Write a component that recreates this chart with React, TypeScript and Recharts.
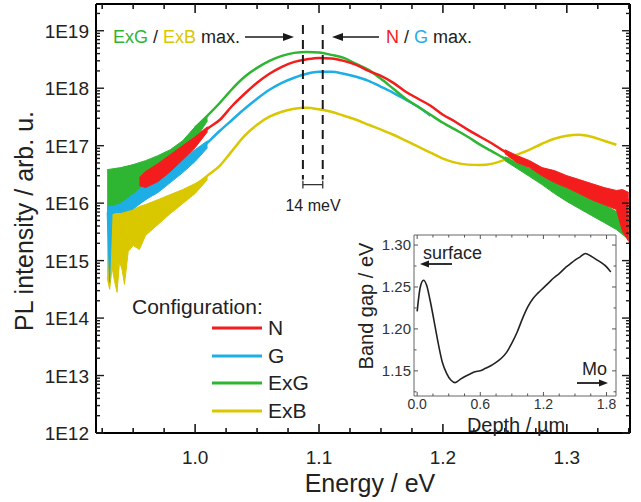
import React from 'react';
import { ComposedChart, LineChart, Line, Area, XAxis, YAxis, ReferenceLine } from 'recharts';

const FONT = '"Liberation Sans", Arial, Helvetica, sans-serif';

// ---------- main chart: PL spectra ----------
const energyGrid = [1.0, 1.01, 1.02, 1.03, 1.04, 1.05, 1.06, 1.07, 1.08, 1.09, 1.1, 1.11, 1.12, 1.13, 1.14, 1.15, 1.16, 1.17, 1.18, 1.19, 1.2, 1.21, 1.22, 1.23, 1.24, 1.25, 1.26, 1.27, 1.28, 1.29, 1.3, 1.31, 1.32, 1.33, 1.34, 1.35];
const nValues = [1.17e17, 1.97e17, 2.83e17, 4.95e17, 8.0e17, 1.24e18, 1.78e18, 2.35e18, 2.87e18, 3.18e18, 3.37e18, 3.3e18, 2.99e18, 2.55e18, 2.0e18, 1.64e18, 1.24e18, 8.66e17, 6.55e17, 4.95e17, 3.45e17, 2.61e17, 1.9e17, 1.43e17, 1.08e17, 7.87e16, 6.19e16, 5.07e16, 3.68e16, 2.9e16, 2.28e16, 1.94e16, 1.72e16, 1.47e16, 1.3e16, 1.11e16];
const gValues = [6.98e16, 1.13e17, 1.82e17, 2.83e17, 4.39e17, 6.55e17, 9.38e17, 1.24e18, 1.52e18, 1.78e18, 1.93e18, 1.93e18, 1.78e18, 1.58e18, 1.34e18, 1.06e18, 8.32e17, 6.29e17, 4.75e17, 3.32e17, null, null, null, null, null, null, null, null, null, null, null, null, null, null, null, null];
const exgValues = [2.05e17, 3.32e17, 5.58e17, 9.76e17, 1.58e18, 2.26e18, 2.99e18, 3.65e18, 4.12e18, 4.28e18, 4.2e18, 3.8e18, 3.37e18, 2.65e18, 2.09e18, 1.46e18, 9.76e17, 6.55e17, 4.75e17, 3.45e17, 2.51e17, 1.9e17, 1.43e17, 1.04e17, 7.87e16, 5.95e16, 4.5e16, 3.4e16, 2.67e16, 1.87e16, 1.41e16, 1.11e16, 8.73e15, 6.87e15, 5.19e15, 4.08e15];
const exbValues = [2.02e16, 3.01e16, 4.5e16, 8.19e16, 1.49e17, 2.31e17, 3.19e17, 3.89e17, 4.39e17, 4.57e17, 4.3e17, 3.89e17, 3.32e17, 2.83e17, 2.31e17, 1.9e17, 1.55e17, 1.22e17, 9.61e16, 7.56e16, 5.95e16, 5.07e16, 4.68e16, 4.59e16, 4.87e16, 5.71e16, 6.98e16, 8.52e16, 1.08e17, 1.32e17, 1.49e17, 1.55e17, 1.43e17, 1.22e17, 1.04e17, null];

// noise envelopes (low / high) of the measured spectra
const exgNoiseLeftE = [0.929, 0.94, 0.95, 0.96, 0.97, 0.98, 0.99, 1.0, 1.01];
const exgNoiseLeftHi = [3.83e16, 4.15e16, 4.68e16, 5.49e16, 6.71e16, 8.52e16, 1.22e17, 2.14e17, 3.32e17];
const exgNoiseLeftLo = [6.34e15, 7.15e15, 8.39e15, 1.15e16, 1.72e16, 2.78e16, 5.71e16, 1.27e17, 2.72e17];
const exgNoiseRightE = [1.25, 1.26, 1.27, 1.28, 1.29, 1.3, 1.31, 1.32, 1.33, 1.34, 1.35];
const exgNoiseRightHi = [6.44e16, 5.07e16, 3.99e16, 3.27e16, 2.28e16, 1.87e16, 1.47e16, 1.15e16, 9.46e15, 7.15e15, 6.09e15];
const exgNoiseRightLo = [5.49e16, 3.99e16, 2.9e16, 2.1e16, 1.47e16, 1.07e16, 8.06e15, 6.09e15, 4.61e15, 3.48e15, 2.33e15];

const nNoiseLeftE = [0.955, 0.96, 0.97, 0.98, 0.99, 1.0, 1.01];
const nNoiseLeftHi = [2.78e16, 3.54e16, 4.87e16, 6.98e16, 1.0e17, 1.43e17, 2.14e17];
const nNoiseLeftLo = [2.02e16, 1.87e16, 2.37e16, 3.54e16, 5.71e16, 9.23e16, 1.75e17];
const nNoiseRightE = [1.25, 1.26, 1.27, 1.28, 1.29, 1.3, 1.31, 1.32, 1.33, 1.34, 1.345, 1.35];
const nNoiseRightHi = [8.52e16, 6.71e16, 5.49e16, 4.15e16, 3.68e16, 3.01e16, 2.57e16, 2.19e16, 1.87e16, 1.66e16, 1.72e16, 1.53e16];
const nNoiseRightLo = [7.26e16, 5.07e16, 4.15e16, 3.01e16, 2.28e16, 1.87e16, 1.47e16, 1.15e16, 9.46e15, 7.74e15, 3.21e15, 2.15e15];

const gNoiseLeftE = [0.929, 0.931, 0.933, 0.94, 0.95, 0.96, 0.97, 0.98, 0.99, 1.0, 1.01];
const gNoiseLeftHi = [8.73e15, 8.73e15, 8.73e15, 9.84e15, 1.41e16, 2.19e16, 3.14e16, 4.5e16, 6.19e16, 8.52e16, 1.22e17];
const gNoiseLeftLo = [6.87e15, 4.18e14, 6.87e15, 6.87e15, 7.9e15, 1.15e16, 1.53e16, 2.28e16, 3.4e16, 5.3e16, 9.23e16];

const exbNoiseLeftE = [0.929, 0.931, 0.933, 0.935, 0.937, 0.939, 0.941, 0.943, 0.946, 0.95, 0.955, 0.96, 0.97, 0.98, 0.99, 1.0, 1.01];
const exbNoiseLeftHi = [6.87e15, 6.87e15, 6.87e15, 7.15e15, 7.15e15, 7.15e15, 7.44e15, 7.44e15, 7.74e15, 7.74e15, 8.73e15, 9.46e15, 1.15e16, 1.41e16, 1.72e16, 2.19e16, 2.9e16];
const exbNoiseLeftLo = [5.11e14, 3.16e14, 7.62e14, 4.35e14, 2.81e14, 9.68e14, 7.03e14, 3.86e14, 1.44e15, 1.84e15, 1.56e15, 2.74e15, 4.25e15, 6.6e15, 9.84e15, 1.47e16, 2.57e16];

const seriesNames = ['N', 'G', 'ExG', 'ExB'];
const seriesColors = ['#f41d1d', '#1eaee6', '#2eb531', '#d9c700'];

const xMajorTicks = [1.0, 1.1, 1.2, 1.3];
const yDecades = [12, 13, 14, 15, 16, 17, 18, 19];
const X_DOMAIN = [0.92, 1.351];
const Y_DOMAIN = [1e12, 2.92e19];

// ---------- inset: band gap depth profile ----------
const depthUm = [0.0, 0.03, 0.06, 0.09, 0.12, 0.16, 0.2, 0.24, 0.28, 0.32, 0.36, 0.4, 0.45, 0.5, 0.55, 0.6, 0.65, 0.7, 0.75, 0.8, 0.85, 0.9, 0.95, 1.0, 1.05, 1.1, 1.15, 1.2, 1.25, 1.3, 1.35, 1.4, 1.45, 1.5, 1.55, 1.6, 1.65, 1.7, 1.75, 1.8, 1.84];
const bandGapEv = [1.221, 1.25, 1.258, 1.252, 1.236, 1.21, 1.183, 1.16, 1.147, 1.139, 1.136, 1.139, 1.143, 1.146, 1.149, 1.15, 1.153, 1.156, 1.16, 1.165, 1.172, 1.183, 1.196, 1.212, 1.226, 1.236, 1.243, 1.249, 1.255, 1.261, 1.266, 1.272, 1.277, 1.282, 1.286, 1.29, 1.287, 1.283, 1.279, 1.274, 1.268];
const insetXMajor = [0, 0.6, 1.2, 1.8];
const insetYMajor = [1.15, 1.2, 1.25, 1.3];

// ---------- derived tables ----------
const lineRows = energyGrid.map((e, i) => ({ e, n: nValues[i], g: gValues[i], exg: exgValues[i], exb: exbValues[i] }));
const band = (es: number[], lo: number[], hi: number[]) => es.map((e, i) => ({ e, r: [lo[i], hi[i]] }));
const exgLeft = band(exgNoiseLeftE, exgNoiseLeftLo, exgNoiseLeftHi);
const exgRight = band(exgNoiseRightE, exgNoiseRightLo, exgNoiseRightHi);
const nLeft = band(nNoiseLeftE, nNoiseLeftLo, nNoiseLeftHi);
const nRight = band(nNoiseRightE, nNoiseRightLo, nNoiseRightHi);
const gLeft = band(gNoiseLeftE, gNoiseLeftLo, gNoiseLeftHi);
const exbLeft = band(exbNoiseLeftE, exbNoiseLeftLo, exbNoiseLeftHi);
const insetRows = depthUm.map((d, i) => ({ d, eg: bandGapEv[i] }));

const xTicks: number[] = [];
for (let k = 37; k <= 54; k++) xTicks.push(+(k * 0.025).toFixed(3));
const yTicks: number[] = [];
yDecades.forEach((n) => {
  for (let m = 1; m <= 9; m++) {
    const v = m * Math.pow(10, n);
    if (v <= Y_DOMAIN[1]) yTicks.push(v);
  }
});
const insetXTicks: number[] = [];
for (let k = 0; k <= 12; k++) insetXTicks.push(+(k * 0.15).toFixed(2));
const insetYTicks: number[] = [];
for (let k = 0; k <= 7; k++) insetYTicks.push(+(1.125 + k * 0.025).toFixed(3));

const isXMajor = (v: number) => xMajorTicks.some((t) => Math.abs(t - v) < 1e-6);
const isYMajor = (v: number) => Math.abs(Math.log10(v) - Math.round(Math.log10(v))) < 1e-6;
const isIXMajor = (v: number) => insetXMajor.some((t) => Math.abs(t - v) < 1e-6);
const isIYMajor = (v: number) => insetYMajor.some((t) => Math.abs(t - v) < 1e-6);

const INK = '#1a1a1a';

const XTickBottom = (p: any) => {
  const v = p.payload.value;
  const major = isXMajor(v);
  return (
    <g>
      <line x1={p.x} x2={p.x} y1={p.y} y2={p.y - (major ? 9 : 5)} stroke={INK} strokeWidth={1.6} />
      {major && (
        <text x={p.x} y={p.y + 31} textAnchor="middle" fontSize={19} fontFamily={FONT} fill="#222">
          {v.toFixed(1)}
        </text>
      )}
    </g>
  );
};
const XTickTop = (p: any) => {
  const major = isXMajor(p.payload.value);
  return <line x1={p.x} x2={p.x} y1={p.y} y2={p.y + (major ? 9 : 5)} stroke={INK} strokeWidth={1.6} />;
};
const YTickLeft = (p: any) => {
  const v = p.payload.value;
  const major = isYMajor(v);
  return (
    <g>
      <line x1={p.x} x2={p.x + (major ? 8 : 4)} y1={p.y} y2={p.y} stroke={INK} strokeWidth={1.4} />
      {major && (
        <text x={p.x - 7} y={p.y + 7} textAnchor="end" fontSize={19} fontFamily={FONT} fill="#222">
          {'1E' + Math.round(Math.log10(v))}
        </text>
      )}
    </g>
  );
};
const YTickRight = (p: any) => {
  const major = isYMajor(p.payload.value);
  return <line x1={p.x} x2={p.x - (major ? 8 : 4)} y1={p.y} y2={p.y} stroke={INK} strokeWidth={1.4} />;
};

const IXTickBottom = (p: any) => {
  const v = p.payload.value;
  const major = isIXMajor(v);
  return (
    <g>
      <line x1={p.x} x2={p.x} y1={p.y} y2={p.y - (major ? 4 : 2.5)} stroke="#555" strokeWidth={1} />
      {major && (
        <text x={p.x} y={p.y + 13} textAnchor="middle" fontSize={14} fontFamily={FONT} fill="#333">
          {v.toFixed(1)}
        </text>
      )}
    </g>
  );
};
const IXTickTop = (p: any) => {
  const major = isIXMajor(p.payload.value);
  return <line x1={p.x} x2={p.x} y1={p.y} y2={p.y + (major ? 4 : 2.5)} stroke="#555" strokeWidth={1} />;
};
const IYTickLeft = (p: any) => {
  const v = p.payload.value;
  const major = isIYMajor(v);
  return (
    <g>
      <line x1={p.x} x2={p.x + (major ? 4 : 2.5)} y1={p.y} y2={p.y} stroke="#555" strokeWidth={1} />
      {major && (
        <text x={p.x - 3} y={p.y + 5} textAnchor="end" fontSize={15} fontFamily={FONT} fill="#333">
          {v.toFixed(2)}
        </text>
      )}
    </g>
  );
};
const IYTickRight = (p: any) => {
  const major = isIYMajor(p.payload.value);
  return <line x1={p.x} x2={p.x - (major ? 4 : 2.5)} y1={p.y} y2={p.y} stroke="#555" strokeWidth={1} />;
};

const Arrow = ({ x1, y1, x2, y2, w = 1.6, head = 11, hw = 4 }: any) => {
  const a = Math.atan2(y2 - y1, x2 - x1);
  const bx = x2 - head * Math.cos(a);
  const by = y2 - head * Math.sin(a);
  const px = -Math.sin(a) * hw;
  const py = Math.cos(a) * hw;
  return (
    <g>
      <line x1={x1} y1={y1} x2={bx} y2={by} stroke={INK} strokeWidth={w} />
      <polygon points={`${x2},${y2} ${bx + px},${by + py} ${bx - px},${by - py}`} fill={INK} />
    </g>
  );
};

const frame = { stroke: '#000', strokeWidth: 2 };
const E1 = 1.087;
const E2 = 1.103;

export default function App() {
  const bandProps = (color: string) => ({
    type: 'linear' as const,
    stroke: color,
    strokeWidth: 1,
    fill: color,
    fillOpacity: 1,
    isAnimationActive: false,
    dot: false,
    activeDot: false,
    xAxisId: 'b',
    yAxisId: 'l',
    dataKey: 'r',
  });
  const lineProps = (color: string, key: string) => ({
    type: 'monotone' as const,
    dataKey: key,
    stroke: color,
    strokeWidth: 2.5,
    dot: false,
    activeDot: false,
    isAnimationActive: false,
    xAxisId: 'b',
    yAxisId: 'l',
    data: lineRows,
  });
  const [cN, cG, cExG, cExB] = seriesColors;
  const legendY = [328, 356, 383, 411];

  return (
    <div style={{ position: 'absolute', left: 0, top: 0, width: 641, height: 502, background: '#fff', fontFamily: FONT }}>
      <ComposedChart width={641} height={502} margin={{ top: 3, right: 10, bottom: 0, left: 0 }}>
        <XAxis xAxisId="b" dataKey="e" type="number" domain={X_DOMAIN} allowDataOverflow ticks={xTicks} interval={0} tick={XTickBottom} tickLine={false} tickSize={0} tickMargin={0} axisLine={frame} height={69} />
        <XAxis xAxisId="t" orientation="top" dataKey="e" type="number" domain={X_DOMAIN} allowDataOverflow ticks={xTicks} interval={0} tick={XTickTop} tickLine={false} tickSize={0} tickMargin={0} axisLine={frame} height={1} />
        <YAxis yAxisId="l" type="number" scale="log" domain={Y_DOMAIN} allowDataOverflow ticks={yTicks} interval={0} tick={YTickLeft} tickLine={false} tickSize={0} tickMargin={0} axisLine={frame} width={96} />
        <YAxis yAxisId="r" orientation="right" type="number" scale="log" domain={Y_DOMAIN} allowDataOverflow ticks={yTicks} interval={0} tick={YTickRight} tickLine={false} tickSize={0} tickMargin={0} axisLine={frame} width={1} />

        <Area {...bandProps(cExB)} data={exbLeft} zIndex={101} />
        <Line {...lineProps(cExB, 'exb')} zIndex={102} />
        <Line {...lineProps(cG, 'g')} zIndex={103} />
        <Area {...bandProps(cExG)} data={exgLeft} zIndex={104} />
        <Area {...bandProps(cExG)} data={exgRight} zIndex={105} />
        <Line {...lineProps(cExG, 'exg')} zIndex={106} />
        <Area {...bandProps(cG)} data={gLeft} zIndex={107} />
        <Area {...bandProps(cN)} data={nLeft} zIndex={108} />
        <Area {...bandProps(cN)} data={nRight} zIndex={109} />
        <Line {...lineProps(cN, 'n')} zIndex={110} />

        <ReferenceLine xAxisId="b" yAxisId="l" segment={[{ x: E1, y: 1.26e19 }, { x: E1, y: 2.57e16 }]} stroke={INK} strokeWidth={2} strokeDasharray="9 6" />
        <ReferenceLine xAxisId="b" yAxisId="l" segment={[{ x: E2, y: 1.26e19 }, { x: E2, y: 2.57e16 }]} stroke={INK} strokeWidth={2} strokeDasharray="9 6" />
        <ReferenceLine xAxisId="b" yAxisId="l" segment={[{ x: E1, y: 2.1e16 }, { x: E2, y: 2.1e16 }]} stroke="#333" strokeWidth={1.3} />
        <ReferenceLine xAxisId="b" yAxisId="l" segment={[{ x: E1, y: 2.45e16 }, { x: E1, y: 1.8e16 }]} stroke="#333" strokeWidth={1.3} />
        <ReferenceLine xAxisId="b" yAxisId="l" segment={[{ x: E2, y: 2.45e16 }, { x: E2, y: 1.8e16 }]} stroke="#333" strokeWidth={1.3} />

        <text x={313} y={211} textAnchor="middle" fontSize={16} fontFamily={FONT} fill="#222">14 meV</text>

        <text x={113} y={43} fontSize={18} fontFamily={FONT} fill="#222">
          <tspan fill={cExG}>ExG</tspan>
          <tspan> / </tspan>
          <tspan fill={cExB}>ExB</tspan>
          <tspan> max.</tspan>
        </text>
        <Arrow x1={245} y1={37} x2={294} y2={37} />
        <Arrow x1={379} y1={37} x2={332} y2={37} />
        <text x={386} y={43} fontSize={18} fontFamily={FONT} fill="#222">
          <tspan fill={cN}>N</tspan>
          <tspan> / </tspan>
          <tspan fill={cG}>G</tspan>
          <tspan> max.</tspan>
        </text>

        <text x={370} y={492} textAnchor="middle" fontSize={25} fontFamily={FONT} fill="#222">Energy / eV</text>
        <text transform="translate(33,221) rotate(-90)" textAnchor="middle" fontSize={25} fontFamily={FONT} fill="#222">PL intensity / arb. u.</text>

        <text x={132} y={314} fontSize={21} fontFamily={FONT} fill="#222">Configuration:</text>
        {seriesNames.map((name, i) => (
          <g key={name}>
            <line x1={212} x2={262} y1={legendY[i]} y2={legendY[i]} stroke={seriesColors[i]} strokeWidth={3} />
            <text x={268} y={legendY[i] + 7} fontSize={21} fontFamily={FONT} fill="#222">{name}</text>
          </g>
        ))}
      </ComposedChart>

      <div style={{ position: 'absolute', left: 340, top: 225 }}>
        <LineChart width={290} height={215} data={insetRows} margin={{ top: 9, right: 13, bottom: 0, left: 0 }}>
          <XAxis xAxisId="b" dataKey="d" type="number" domain={[-0.03, 1.89]} allowDataOverflow ticks={insetXTicks} interval={0} tick={IXTickBottom} tickLine={false} tickSize={0} tickMargin={0} axisLine={{ stroke: '#666', strokeWidth: 1 }} height={44} />
          <XAxis xAxisId="t" orientation="top" dataKey="d" type="number" domain={[-0.03, 1.89]} allowDataOverflow ticks={insetXTicks} interval={0} tick={IXTickTop} tickLine={false} tickSize={0} tickMargin={0} axisLine={{ stroke: '#666', strokeWidth: 1 }} height={1} />
          <YAxis yAxisId="l" type="number" domain={[1.12, 1.312]} allowDataOverflow ticks={insetYTicks} interval={0} tick={IYTickLeft} tickLine={false} tickSize={0} tickMargin={0} axisLine={{ stroke: '#666', strokeWidth: 1 }} width={74} />
          <YAxis yAxisId="r" orientation="right" type="number" domain={[1.12, 1.312]} allowDataOverflow ticks={insetYTicks} interval={0} tick={IYTickRight} tickLine={false} tickSize={0} tickMargin={0} axisLine={{ stroke: '#666', strokeWidth: 1 }} width={1} />
          <Line xAxisId="b" yAxisId="l" type="monotone" dataKey="eg" stroke="#222" strokeWidth={1.6} dot={false} activeDot={false} isAnimationActive={false} />
          <text x={83} y={34} fontSize={18} fontFamily={FONT} fill="#222">surface</text>
          <Arrow x1={112} y1={39} x2={80} y2={39} head={9} hw={3.5} w={1.8} />
          <text x={242} y={150} fontSize={18} fontFamily={FONT} fill="#222">Mo</text>
          <Arrow x1={237} y1={158} x2={268} y2={158} head={9} hw={3.5} w={1.8} />
          <text x={176} y={207} textAnchor="middle" fontSize={20} fontFamily={FONT} fill="#222">Depth / µm</text>
          <text transform="translate(33,81) rotate(-90)" textAnchor="middle" fontSize={20} fontFamily={FONT} fill="#222">Band gap / eV</text>
        </LineChart>
      </div>
    </div>
  );
}
